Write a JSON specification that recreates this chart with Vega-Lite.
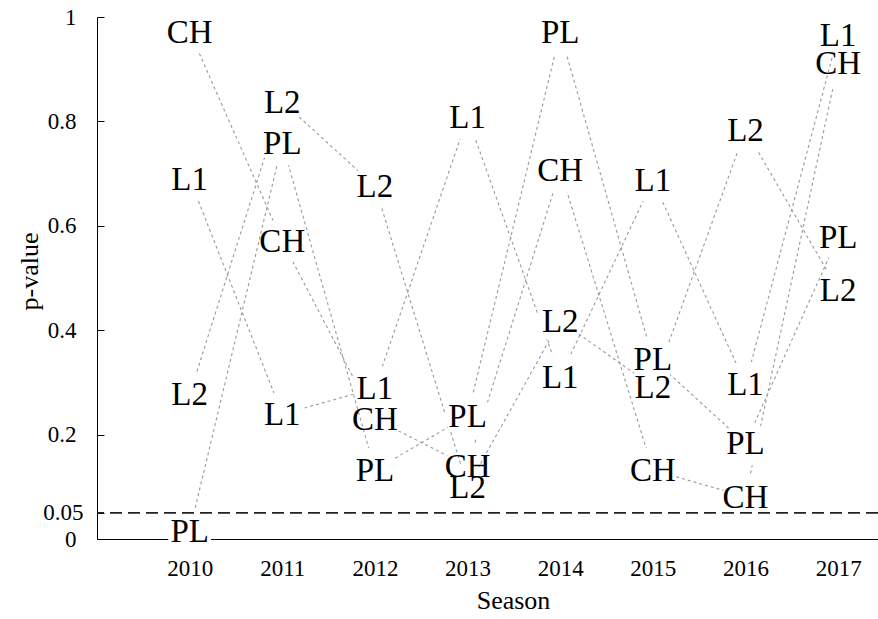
{
  "$schema": "https://vega.github.io/schema/vega-lite/v6.json",
  "width": 781,
  "height": 522,
  "autosize": {"type": "none"},
  "padding": {"left": 97, "top": 17, "right": 0, "bottom": 80},
  "background": "white",
  "config": {
    "view": {"stroke": null},
    "font": "Liberation Serif",
    "axis": {"grid": false, "domainColor": "#000", "tickColor": "#000", "labelColor": "#000", "titleColor": "#000", "labelFont": "Liberation Serif", "titleFont": "Liberation Serif", "titleFontWeight": "normal", "labelFontSize": 23, "titleFontSize": 26}
  },
  "data": {
    "values": [
      {"series": "CH", "season": 2010, "p": 0.972},
      {"series": "CH", "season": 2011, "p": 0.570},
      {"series": "CH", "season": 2012, "p": 0.230},
      {"series": "CH", "season": 2013, "p": 0.140},
      {"series": "CH", "season": 2014, "p": 0.707},
      {"series": "CH", "season": 2015, "p": 0.132},
      {"series": "CH", "season": 2016, "p": 0.081},
      {"series": "CH", "season": 2017, "p": 0.911},
      {"series": "L1", "season": 2010, "p": 0.690},
      {"series": "L1", "season": 2011, "p": 0.239},
      {"series": "L1", "season": 2012, "p": 0.289},
      {"series": "L1", "season": 2013, "p": 0.808},
      {"series": "L1", "season": 2014, "p": 0.311},
      {"series": "L1", "season": 2015, "p": 0.687},
      {"series": "L1", "season": 2016, "p": 0.297},
      {"series": "L1", "season": 2017, "p": 0.966},
      {"series": "L2", "season": 2010, "p": 0.277},
      {"series": "L2", "season": 2011, "p": 0.838},
      {"series": "L2", "season": 2012, "p": 0.676},
      {"series": "L2", "season": 2013, "p": 0.100},
      {"series": "L2", "season": 2014, "p": 0.418},
      {"series": "L2", "season": 2015, "p": 0.292},
      {"series": "L2", "season": 2016, "p": 0.784},
      {"series": "L2", "season": 2017, "p": 0.477},
      {"series": "PL", "season": 2010, "p": 0.015},
      {"series": "PL", "season": 2011, "p": 0.758},
      {"series": "PL", "season": 2012, "p": 0.132},
      {"series": "PL", "season": 2013, "p": 0.236},
      {"series": "PL", "season": 2014, "p": 0.971},
      {"series": "PL", "season": 2015, "p": 0.345},
      {"series": "PL", "season": 2016, "p": 0.183},
      {"series": "PL", "season": 2017, "p": 0.579}
    ]
  },
  "encoding": {
    "x": {
      "field": "season", "type": "quantitative",
      "scale": {"domain": [2009, 2017.43], "nice": false, "zero": false},
      "axis": {"title": "Season", "values": [2010, 2011, 2012, 2013, 2014, 2015, 2016, 2017], "format": "d", "ticks": false, "labelPadding": 18, "titleX": 416, "titleY": 69, "titleBaseline": "alphabetic", "titleAlign": "center", "labelFlush": false}
    },
    "y": {
      "field": "p", "type": "quantitative",
      "scale": {"domain": [0, 1], "nice": false},
      "axis": {"title": "p-value", "values": [0, 0.05, 0.2, 0.4, 0.6, 0.8, 1], "format": "~g", "tickSize": -7, "labelPadding": {"condition": {"test": "datum.value == 0.05", "value": 21}, "value": 28}, "titleX": -60, "titleY": 254, "titleBaseline": "alphabetic", "titleAlign": "center", "titleAngle": 270, "labelFlush": false}
    }
  },
  "layer": [
    {"transform": [{"filter": "datum.series == 'CH'"}], "mark": {"type": "line", "stroke": "#999", "strokeWidth": 1.1, "strokeDash": [3, 3]}},
    {"transform": [{"filter": "datum.series == 'CH'"}], "mark": {"type": "point", "shape": "circle", "filled": true, "fill": "white", "opacity": 1, "size": 2124, "strokeWidth": 0}},
    {"transform": [{"filter": "datum.series == 'L1'"}], "mark": {"type": "line", "stroke": "#999", "strokeWidth": 1.1, "strokeDash": [3, 3]}},
    {"transform": [{"filter": "datum.series == 'L1'"}], "mark": {"type": "point", "shape": "circle", "filled": true, "fill": "white", "opacity": 1, "size": 2124, "strokeWidth": 0}},
    {"transform": [{"filter": "datum.series == 'L2'"}], "mark": {"type": "line", "stroke": "#999", "strokeWidth": 1.1, "strokeDash": [3, 3]}},
    {"transform": [{"filter": "datum.series == 'L2'"}], "mark": {"type": "point", "shape": "circle", "filled": true, "fill": "white", "opacity": 1, "size": 2124, "strokeWidth": 0}},
    {"transform": [{"filter": "datum.series == 'PL'"}], "mark": {"type": "line", "stroke": "#999", "strokeWidth": 1.1, "strokeDash": [3, 3]}},
    {"transform": [{"filter": "datum.series == 'PL'"}], "mark": {"type": "point", "shape": "circle", "filled": true, "fill": "white", "opacity": 1, "size": 2124, "strokeWidth": 0}},
    {
      "data": {"values": [{"threshold": 0.05}]},
      "mark": {"type": "rule", "stroke": "#222", "strokeWidth": 1.8, "strokeDash": [12, 6]},
      "encoding": {"y": {"field": "threshold", "type": "quantitative"}, "x": null}
    },
    {
      "mark": {"type": "text", "font": "Liberation Serif", "fontSize": 33, "color": "#000", "baseline": "alphabetic", "align": "center", "dy": 11},
      "encoding": {"text": {"field": "series"}}
    }
  ]
}
